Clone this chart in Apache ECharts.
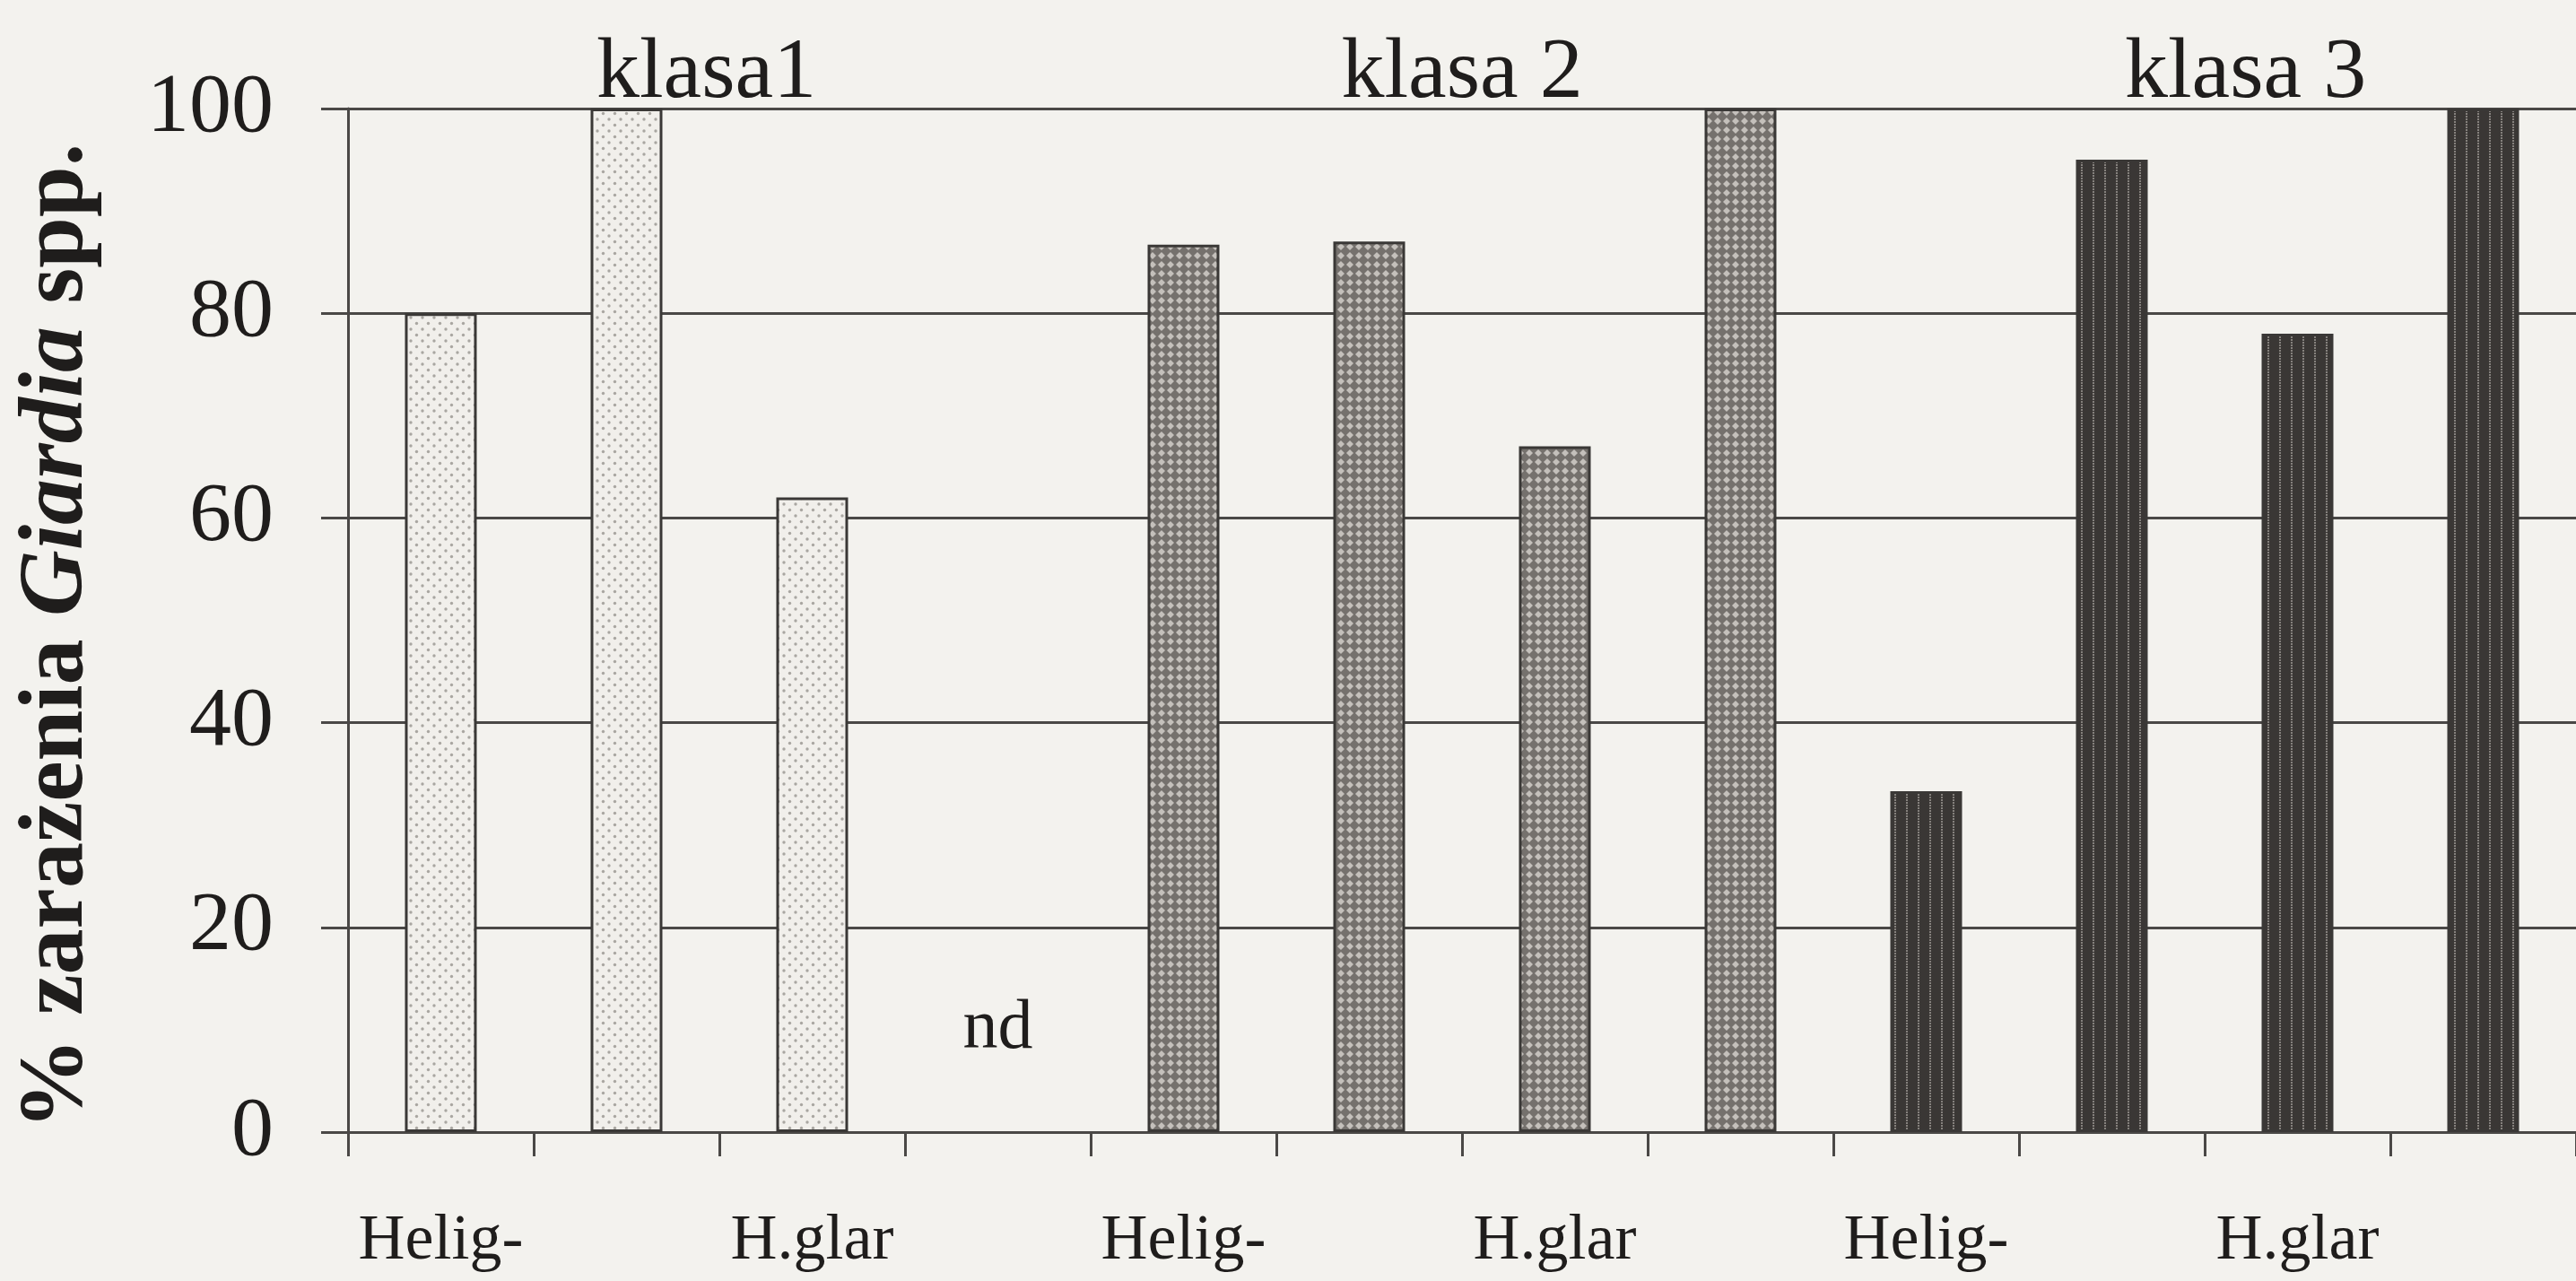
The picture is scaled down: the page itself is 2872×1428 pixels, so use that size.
<!DOCTYPE html>
<html>
<head>
<meta charset="utf-8">
<script src="https://cdn.jsdelivr.net/npm/echarts@6/dist/echarts.min.js"></script>
<style>
  html, body { margin: 0; padding: 0; background: #f3f2ee; }
  #chart-container { width: 2872px; height: 1428px; }
</style>
</head>
<body>
<div id="chart-container"></div>
<script>
// kategorie na osi X (puste = etykieta niewidoczna w oryginale)
var categories = ['Helig-', '', 'H.glar', '', 'Helig-', '', 'H.glar', '', 'Helig-', '', 'H.glar', ''];

// % zarażenia w poszczególnych klasach
var klasa1 = [80, 100, 62, null, null, null, null, null, null, null, null, null];
var klasa2 = [null, null, null, null, 86.7, 87, 67, 100, null, null, null, null];
var klasa3 = [null, null, null, null, null, null, null, null, 33.3, 95, 78, 100];

// podpisy grup nad wykresem (pozycja w jednostkach kategorii)
var groupNames = ['klasa1', 'klasa 2', 'klasa 3'];
var groupPos = [1.43, 5.5, 9.72];

// brak danych
var ndPos = [3, 10];

var serif = "'Liberation Serif', 'DejaVu Serif', serif";
var ink = '#1f1d1c';
var lineColor = '#4a4846';

// wzory wypełnienia słupków
function makePattern(w, h, draw) {
  var c = document.createElement('canvas');
  c.width = w;
  c.height = h;
  draw(c.getContext('2d'));
  return { image: c, repeat: 'repeat' };
}

var dots = makePattern(13, 13, function (ctx) {
  ctx.fillStyle = '#f1efeb';
  ctx.fillRect(0, 0, 13, 13);
  ctx.fillStyle = '#a9a6a1';
  ctx.beginPath(); ctx.arc(3, 3, 1.7, 0, Math.PI * 2); ctx.fill();
  ctx.beginPath(); ctx.arc(9.5, 9.5, 1.7, 0, Math.PI * 2); ctx.fill();
});

var hatch = makePattern(10, 10, function (ctx) {
  ctx.fillStyle = '#75716d';
  ctx.fillRect(0, 0, 10, 10);
  ctx.fillStyle = '#c4c0bb';
  ctx.beginPath();
  ctx.moveTo(5, 1); ctx.lineTo(9, 5); ctx.lineTo(5, 9); ctx.lineTo(1, 5);
  ctx.closePath();
  ctx.fill();
});

var stripes = makePattern(13, 6, function (ctx) {
  ctx.fillStyle = '#3a3735';
  ctx.fillRect(0, 0, 13, 6);
  ctx.fillStyle = '#85817d';
  ctx.fillRect(6, 0, 2, 2);
  ctx.fillRect(6, 3, 2, 2);
});

var dom = document.getElementById('chart-container');
var myChart = echarts.init(dom);

function barSeries(name, data, fill) {
  return {
    name: name,
    type: 'bar',
    data: data,
    barWidth: 80,
    barGap: '-100%',
    itemStyle: {
      color: fill,
      borderColor: '#3a3836',
      borderWidth: 3
    },
    animation: false
  };
}

var option = {
  backgroundColor: '#f3f2ee',
  grid: { left: 388, right: 0, top: 121, bottom: 166 },
  xAxis: [
    {
      type: 'category',
      data: categories,
      axisLine: { lineStyle: { color: lineColor, width: 3 } },
      axisTick: { show: true, length: 27, lineStyle: { color: lineColor, width: 3 } },
      axisLabel: {
        interval: 0,
        margin: 86,
        fontFamily: serif,
        fontSize: 72,
        color: ink
      }
    },
    { type: 'value', min: -0.5, max: 11.5, show: false }
  ],
  yAxis: {
    type: 'value',
    min: 0,
    max: 100,
    interval: 20,
    name: '{a|% zarażenia }{b|Giardia}{a| spp.}',
    nameLocation: 'middle',
    nameGap: 272,
    nameTextStyle: {
      padding: [0, 36, 0, 0],
      rich: {
        a: { fontFamily: serif, fontSize: 102, fontWeight: 'bold', color: ink },
        b: { fontFamily: serif, fontSize: 102, fontWeight: 'bold', fontStyle: 'italic', color: ink }
      }
    },
    axisLine: { show: true, onZero: false, lineStyle: { color: lineColor, width: 3 } },
    axisTick: { show: true, length: 30, lineStyle: { color: lineColor, width: 3 } },
    axisLabel: { margin: 83, fontFamily: serif, fontSize: 94, color: ink },
    splitLine: { lineStyle: { color: lineColor, width: 3 } }
  },
  series: [
    barSeries('klasa 1', klasa1, dots),
    barSeries('klasa 2', klasa2, hatch),
    barSeries('klasa 3', klasa3, stripes),
    {
      type: 'scatter',
      xAxisIndex: 1,
      symbolSize: 0,
      silent: true,
      animation: false,
      itemStyle: { opacity: 1 },
      data: groupNames.map(function (n, i) { return { value: [groupPos[i], 100], name: n }; }),
      label: {
        show: true,
        position: 'top',
        distance: 0,
        offset: [0, 10],
        formatter: '{b}',
        fontFamily: serif,
        fontSize: 96,
        color: ink
      }
    },
    {
      type: 'scatter',
      xAxisIndex: 1,
      symbolSize: 0,
      silent: true,
      animation: false,
      itemStyle: { opacity: 1 },
      data: [{ value: ndPos, name: 'nd' }],
      label: {
        show: true,
        position: 'inside',
        formatter: '{b}',
        fontFamily: serif,
        fontSize: 78,
        color: ink
      }
    }
  ]
};

myChart.setOption(option);
window.addEventListener('resize', myChart.resize);
</script>
</body>
</html>
